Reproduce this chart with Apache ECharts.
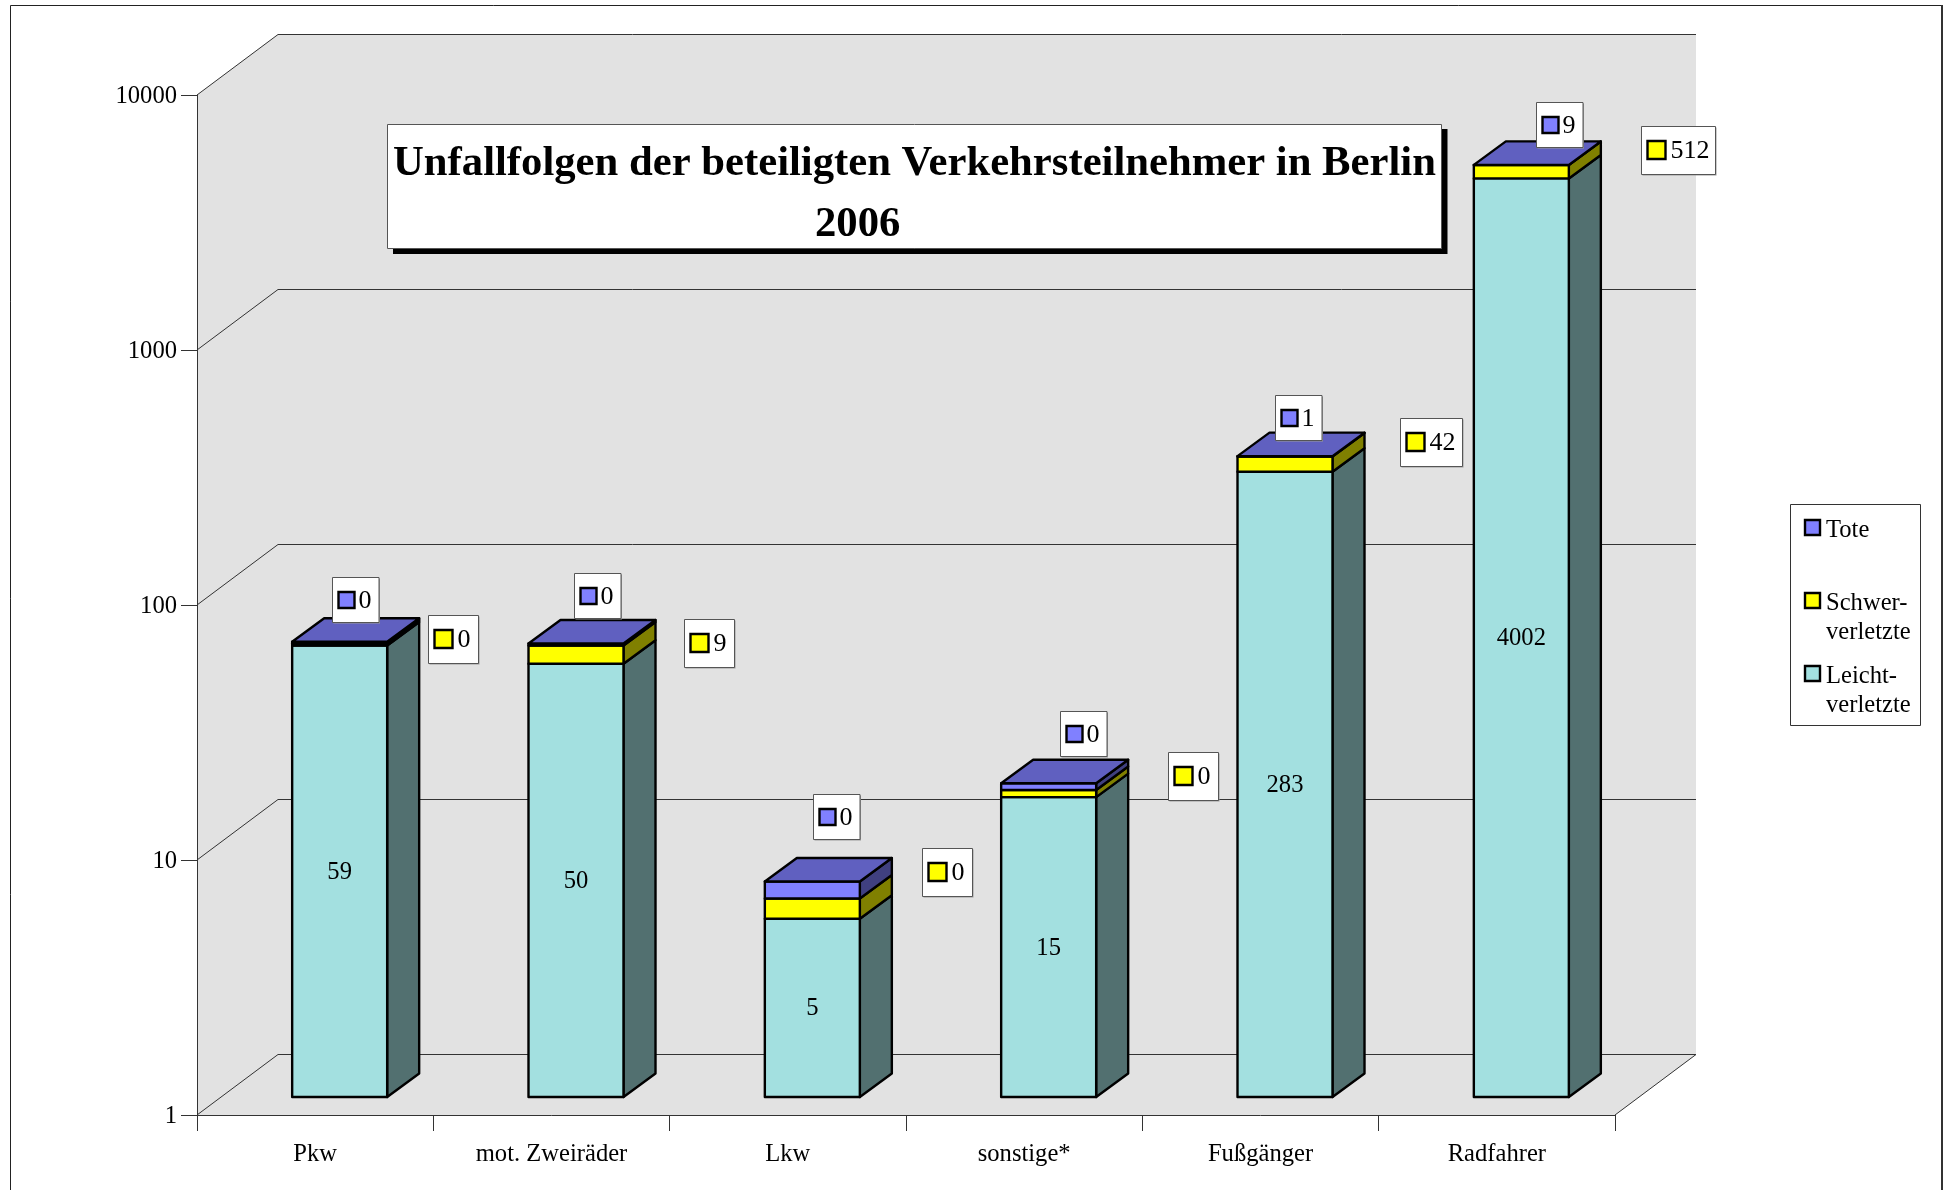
<!DOCTYPE html>
<html>
<head>
<meta charset="utf-8">
<title>Unfallfolgen 2006</title>
<script src="https://cdn.jsdelivr.net/npm/echarts@6/dist/echarts.min.js"></script>
<style>
  html, body { margin: 0; padding: 0; background: #fff; }
  #chart { width: 1946px; height: 1190px; }
</style>
</head>
<body>
<div id="chart"></div>
<script>
const categories = ['Pkw', 'mot. Zweiräder', 'Lkw', 'sonstige*', 'Fußgänger', 'Radfahrer']
const leicht = [59, 50, 5, 15, 283, 4002]
const schwer = [0, 9, 0, 0, 42, 512]
const tote = [0, 0, 0, 0, 1, 9]
const yTicks = [1, 10, 100, 1000, 10000]

// the source chart stacks a labelled 0 as one unit high on its log axis
const plotted = v => v || 1

const font = 'Liberation Serif'
const teal = { front: '#a3e0e0', side: '#527070' }
const yellow = { front: '#ffff00', side: '#808000' }
const blue = { front: '#8080ff', side: '#404080', top: '#6060c0' }

// pseudo 3D: depth of the room and where the bars stand in it
const roomDx = 81, roomDy = -60.5
const barDx = 24.5, barDy = -18, barW = 95
const depthX = 32, depthY = -23.5

// label boxes, relative to the front left corner of each stack's top
const toteBox = [[40, -64.7], [45.3, -71], [48.4, -87], [58.8, -72.5], [37.8, -61], [62.5, -62.7]]
const schwerBox = [[136, -26.7], [155.3, -24.5], [157.1, -33.3], [167.1, -31.5], [162.1, -38], [167.5, -39]]

const tops = categories.map((_, i) => leicht[i] + plotted(schwer[i]) + plotted(tote[i]))

function poly(points, fill) {
  return {
    type: 'polygon',
    shape: { points },
    style: { fill, stroke: '#000', lineWidth: 2.4, lineJoin: 'round' }
  }
}

function segment(colors, withLabel) {
  return (params, api) => {
    const cx = api.coord([api.value(0), 1])[0]
    const x0 = cx + barDx - barW / 2
    const x1 = x0 + barW
    const yb = api.coord([api.value(0), api.value(1)])[1] + barDy
    const yt = api.coord([api.value(0), api.value(2)])[1] + barDy
    const children = [
      poly([[x1, yb], [x1 + depthX, yb + depthY], [x1 + depthX, yt + depthY], [x1, yt]], colors.side),
      poly([[x0, yb], [x1, yb], [x1, yt], [x0, yt]], colors.front)
    ]
    if (colors.top) {
      children.push(poly([[x0, yt], [x1, yt], [x1 + depthX, yt + depthY], [x0 + depthX, yt + depthY]], colors.top))
    }
    if (withLabel) {
      children.push({
        type: 'text',
        style: {
          text: String(api.value(2)), x: (x0 + x1) / 2, y: (yb + yt) / 2 + 1,
          align: 'center', verticalAlign: 'middle',
          font: '24.6px "' + font + '"', fill: '#000'
        }
      })
    }
    return { type: 'group', children }
  }
}

function labelBox(offsets, fill, padW, swatch, textGap) {
  return (params, api) => {
    const i = api.value(0)
    const text = String(api.value(2))
    const p = api.coord([i, api.value(1)])
    const x = Math.round(p[0] + barDx - barW / 2 + offsets[i][0]) + 0.5
    const y = Math.round(p[1] + barDy + offsets[i][1]) + 0.5
    const w = padW + 12 * text.length
    const h = swatch > 17 ? 48 : 45
    return {
      type: 'group',
      children: [
        { type: 'rect', shape: { x: x + 1, y: y + 1, width: w, height: h }, style: { fill: '#999' } },
        { type: 'rect', shape: { x, y, width: w, height: h }, style: { fill: '#fff', stroke: '#555', lineWidth: 1 } },
        {
          type: 'rect',
          shape: { x: x + 6, y: Math.round(y + (h - swatch) / 2), width: swatch - 1, height: swatch - 1 },
          style: { fill, stroke: '#000', lineWidth: 2.4 }
        },
        {
          type: 'text',
          style: {
            text, x: x + swatch + textGap, y: y + h / 2 + 1,
            align: 'left', verticalAlign: 'middle',
            font: '26px "' + font + '"', fill: '#000'
          }
        }
      ]
    }
  }
}

function renderWalls(params, api) {
  const sys = params.coordSys
  const y = api.coord([0, api.value(0)])[1]
  const x0 = sys.x, x1 = sys.x + sys.width
  const line = (a, b) => ({
    type: 'line',
    shape: { x1: a[0], y1: a[1], x2: b[0], y2: b[1] },
    style: { stroke: '#333', lineWidth: 1 }
  })
  const children = []
  if (params.dataIndex === 0) {
    const top = sys.y, bottom = sys.y + sys.height
    children.push({
      type: 'polygon',
      shape: {
        points: [[x0, top], [x0 + roomDx, top + roomDy], [x1 + roomDx, top + roomDy],
          [x1 + roomDx, bottom + roomDy], [x1, bottom], [x0, bottom]]
      },
      style: { fill: '#e2e2e2' }
    })
    children.push(line([x1, y], [x1 + roomDx, y + roomDy]))
  }
  children.push(line([x0, y], [x0 + roomDx, y + roomDy]))
  children.push(line([x0 + roomDx, y + roomDy], [x1 + roomDx, y + roomDy]))
  return { type: 'group', children }
}

function legendGroup() {
  const rows = [
    { fill: blue.front, y: 519, lines: ['Tote'] },
    { fill: yellow.front, y: 592, lines: ['Schwer-', 'verletzte'] },
    { fill: teal.front, y: 665, lines: ['Leicht-', 'verletzte'] }
  ]
  const children = [{
    type: 'rect',
    shape: { x: 1790.5, y: 504.5, width: 130, height: 221 },
    style: { fill: '#fff', stroke: '#333', lineWidth: 1 }
  }]
  rows.forEach(r => {
    children.push({
      type: 'rect',
      shape: { x: 1805, y: r.y + 1, width: 15, height: 15 },
      style: { fill: r.fill, stroke: '#000', lineWidth: 2.4 }
    })
    r.lines.forEach((t, k) => {
      children.push({
        type: 'text',
        style: {
          text: t, x: 1826, y: r.y + 11.5 + k * 29.5,
          align: 'left', verticalAlign: 'middle',
          font: '24.6px "' + font + '"', fill: '#000'
        }
      })
    })
  })
  return { type: 'group', z: 7, children }
}

const chart = echarts.init(document.getElementById('chart'), null, { renderer: 'canvas' })
chart.setOption({
  animation: false,
  backgroundColor: '#fff',
  textStyle: { fontFamily: font },
  title: {
    text: '{a|Unfallfolgen der beteiligten Verkehrsteilnehmer in Berlin}\n{b|2006}',
    left: 393,
    top: 134,
    padding: 0,
    z: 8,
    textStyle: {
      rich: {
        a: { fontFamily: font, fontWeight: 'bold', fontSize: 42.7, lineHeight: 60.5, color: '#000' },
        b: { fontFamily: font, fontWeight: 'bold', fontSize: 42.7, lineHeight: 60.5, color: '#000', padding: [0, 0, 0, 422] }
      }
    }
  },
  grid: { left: 197, right: 331, top: 95, bottom: 75 },
  xAxis: {
    type: 'category',
    data: categories,
    z: 3,
    axisLine: { lineStyle: { color: '#333', width: 1 } },
    axisTick: { show: true, length: 16, alignWithLabel: false, lineStyle: { color: '#333' } },
    axisLabel: { color: '#000', fontFamily: font, fontSize: 24.6, margin: 27.5, interval: 0 },
    splitLine: { show: false }
  },
  yAxis: {
    type: 'log',
    logBase: 10,
    min: 1,
    max: 10000,
    z: 3,
    axisLine: { show: true, lineStyle: { color: '#333', width: 1 } },
    axisTick: { show: true, length: 16, lineStyle: { color: '#333' } },
    axisLabel: {
      color: '#000', fontFamily: font, fontSize: 24.6, margin: 20,
      verticalAlign: 'top', lineHeight: 4,
      formatter: v => String(Math.round(v))
    },
    splitLine: { show: false },
    minorTick: { show: false }
  },
  graphic: [
    {
      type: 'rect',
      shape: { x: 10.5, y: 5.5, width: 1931, height: 1200 },
      style: { fill: 'transparent', stroke: '#222', lineWidth: 1 }
    },
    {
      type: 'line',
      shape: { x1: 1942, y1: 5, x2: 1942, y2: 1190 },
      style: { stroke: '#333', lineWidth: 2 }
    },
    // title box and its hard shadow
    { type: 'rect', z: 7, shape: { x: 393, y: 129, width: 1054.5, height: 125 }, style: { fill: '#000' } },
    {
      type: 'rect',
      z: 7,
      shape: { x: 387.5, y: 124.5, width: 1054, height: 124 },
      style: { fill: '#fff', stroke: '#555', lineWidth: 1 }
    },
    legendGroup()
  ],
  series: [
    {
      name: 'Raster',
      type: 'custom',
      z: 1,
      silent: true,
      data: yTicks.map(v => [v]),
      encode: { y: 0 },
      renderItem: renderWalls
    },
    {
      name: 'Leichtverletzte',
      type: 'custom',
      z: 4,
      data: categories.map((_, i) => [i, 1, leicht[i]]),
      encode: { x: 0, y: [1, 2] },
      renderItem: segment(teal, true)
    },
    {
      name: 'Schwerverletzte',
      type: 'custom',
      z: 4,
      data: categories.map((_, i) => [i, leicht[i], leicht[i] + plotted(schwer[i])]),
      encode: { x: 0, y: [1, 2] },
      renderItem: segment(yellow, false)
    },
    {
      name: 'Tote',
      type: 'custom',
      z: 4,
      data: categories.map((_, i) => [i, leicht[i] + plotted(schwer[i]), tops[i]]),
      encode: { x: 0, y: [1, 2] },
      renderItem: segment(blue, false)
    },
    {
      name: 'Tote Wert',
      type: 'custom',
      z: 6,
      data: categories.map((_, i) => [i, tops[i], tote[i]]),
      encode: { x: 0, y: 1 },
      renderItem: labelBox(toteBox, blue.front, 34.5, 17, 9)
    },
    {
      name: 'Schwerverletzte Wert',
      type: 'custom',
      z: 6,
      data: categories.map((_, i) => [i, tops[i], schwer[i]]),
      encode: { x: 0, y: 1 },
      renderItem: labelBox(schwerBox, yellow.front, 38, 19, 10)
    }
  ]
})
</script>
</body>
</html>
